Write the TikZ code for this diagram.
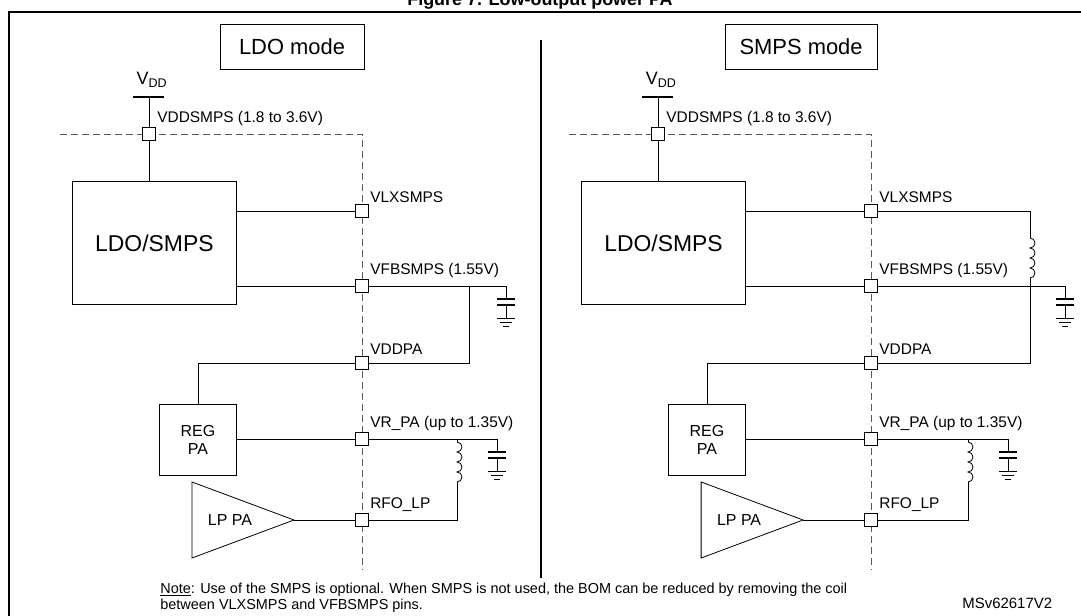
\documentclass[tikz,border=0pt]{standalone}
\usepackage{fontspec}
\setmainfont{Liberation Sans}
\begin{document}
\begin{tikzpicture}[x=1bp,y=-1bp,line width=0.8bp,
  pin/.style={draw,fill=white,minimum size=13bp,inner sep=0pt},
  lbl/.style={anchor=south west,inner sep=1bp,font=\fontsize{15.5}{17}\selectfont},
  blk/.style={draw,font=\fontsize{23}{25}\selectfont},
  dsh/.style={dash pattern=on 7bp off 4bp,gray!70!black}]
\useasboundingbox (0,0) rectangle (1081,616);
\node[font=\bfseries\fontsize{18}{19}\selectfont] (title) at (540,1) {Figure 7. Low-output power PA};
\draw[line width=1.2bp] (9,640) -- (9,12) -- (1100,12);
\draw[line width=1.2bp] (541,40) -- (541,578);
\newcommand{\gnd}[3]{% x, ytop, name
  \draw (#1,#2) -- (#1,#2+13);
  \draw[line width=1.1bp] (#1-9,#2+13) -- (#1+9,#2+13);
  \draw[line width=1.1bp] (#1-9,#2+19) -- (#1+9,#2+19);
  \draw (#1,#2+19) -- (#1,#2+32);
  \draw (#1-9,#2+32) -- (#1+9,#2+32);
  \draw (#1-6,#2+36) -- (#1+6,#2+36);
  \draw (#1-3,#2+40) -- (#1+3,#2+40);}
\newcommand{\coil}[2]{% x, ytop (coil length 40)
  \draw (#1,#2) arc[start angle=90,end angle=-90,radius=5bp]
        arc[start angle=90,end angle=-90,radius=5bp]
        arc[start angle=90,end angle=-90,radius=5bp]
        arc[start angle=90,end angle=-90,radius=5bp];}
\foreach \o/\m/\n/\w in {0/LDO mode/L/144,511/SMPS mode/R/152}{
  \begin{scope}[xshift=\o]
  \node[blk,minimum width=\w bp,minimum height=45bp,font=\fontsize{22}{24}\selectfont] (mode\n) at (292,47) {\m};
  \node[font=\fontsize{18}{19}\selectfont] (vdd\n) at (152,80) {V\textsubscript{DD}};
  \draw[line width=2bp] (133,97) -- (164,97);
  \draw[dsh] (60,134) -- (362,134) -- (362,570);
  \node[blk,minimum width=164bp,minimum height=123bp,anchor=north west] (ldo\n) at (72,181) {LDO/SMPS};
  \node[draw,font=\fontsize{16}{18}\selectfont,align=center,minimum width=77bp,minimum height=71bp,anchor=north west] (reg\n) at (159,404) {REG\\PA};
  \draw (192,482) -- (294,520) -- (192,558) -- cycle;
  \node[font=\fontsize{16}{18}\selectfont] (lppa\n) at (230,520) {LP PA};
  \node[pin] (p1\n) at (149,134) {};
  \node[pin] (p2\n) at (362,211) {};
  \node[pin] (p3\n) at (362,286) {};
  \node[pin] (p4\n) at (362,363) {};
  \node[pin] (p5\n) at (362,439) {};
  \node[pin] (p6\n) at (362,520) {};
  \node[lbl] at (p1\n.north east) {VDDSMPS (1.8 to 3.6V)};
  \node[lbl] at (p2\n.north east) {VLXSMPS};
  \node[lbl] at (p3\n.north east) {VFBSMPS (1.55V)};
  \node[lbl] at (p4\n.north east) {VDDPA};
  \node[lbl] at (p5\n.north east) {VR\_PA (up to 1.35V)};
  \node[lbl] at (p6\n.north east) {RFO\_LP};
  \draw (149,97) -- (p1\n) -- (ldo\n.north -| p1\n);
  \draw (ldo\n.east |- p2\n) -- (p2\n);
  \draw (ldo\n.east |- p3\n) -- (p3\n);
  \draw (reg\n.east |- p5\n) -- (p5\n);
  \draw (294,520) -- (p6\n);
  \draw (p4\n) -- (198,363) -- (198,404);
  \end{scope}}
% left extras
\draw (p3L) -- (506,286);
\gnd{506}{286}{}
\draw (469,286) -- (469,363) -- (p4L);
\draw (p5L) -- (497,439);
\gnd{497}{439}{}
\draw (457,439) -- (457,442); \coil{457}{442} \draw (457,482) -- (457,520) -- (p6L);
% right extras
\draw (p2R) -- (1030,211) -- (1030,238); \coil{1030}{238} \draw (1030,278) -- (1030,363) -- (p4R);
\draw (p3R) -- (1065,286);
\gnd{1065}{286}{}
\draw (p5R) -- (1008,439);
\gnd{1008}{439}{}
\draw (968,439) -- (968,442); \coil{968}{442} \draw (968,482) -- (968,520) -- (p6R);
\node[anchor=north west,align=left,inner sep=0pt,font=\fontsize{14.5}{16}\selectfont] (note) at (160,583)
 {\underline{Note}: Use of the SMPS is optional. When SMPS is not used, the BOM can be reduced by removing the coil\\between VLXSMPS and VFBSMPS pins.};
\node[anchor=north west,inner sep=0pt,font=\fontsize{15}{16}\selectfont] (ms) at (962,598) {MSv62617V2};
\end{tikzpicture}
\end{document}
